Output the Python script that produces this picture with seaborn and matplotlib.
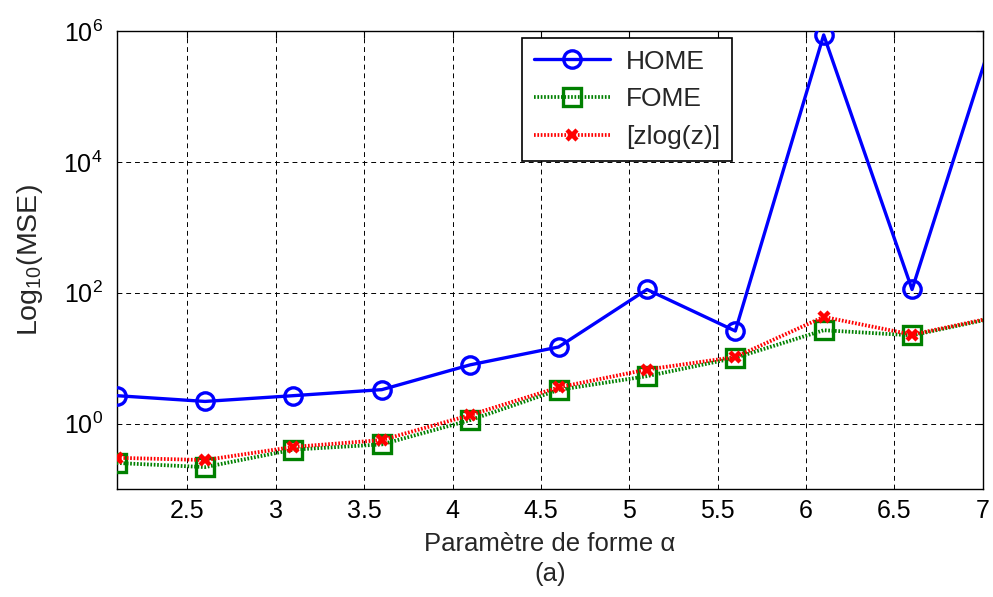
import numpy as np
import pandas as pd
import matplotlib
matplotlib.use("Agg")
import matplotlib.pyplot as plt
import seaborn as sns

# ---- data ----
alpha = [2.1, 2.6, 3.1, 3.6, 4.1, 4.6, 5.1, 5.6, 6.1, 6.6, 7.1]
home = [2.67, 2.18, 2.67, 3.3, 7.9, 14.8, 112, 26, 8.7e5, 112, 1.9e6]
fome = [0.25, 0.216, 0.40, 0.48, 1.13, 3.27, 5.3, 10.1, 26.7, 22.3, 43]
zlog = [0.30, 0.277, 0.44, 0.56, 1.35, 3.58, 6.7, 10.4, 42.7, 22.9, 44]
series_names = ["HOME", "FOME", "[zlog(z)]"]
xticks = [2.5, 3, 3.5, 4, 4.5, 5, 5.5, 6, 6.5, 7]
xtick_labels = ["2.5", "3", "3.5", "4", "4.5", "5", "5.5", "6", "6.5", "7"]
yticks = [1, 1e2, 1e4, 1e6]

sns.set_style("white")
plt.rcParams["font.family"] = ["Liberation Sans", "DejaVu Sans"]
plt.rcParams["mathtext.fontset"] = "custom"
plt.rcParams["mathtext.rm"] = "Liberation Sans"
plt.rcParams["mathtext.it"] = "Liberation Sans:italic"

fig = plt.figure(figsize=(9.93, 5.97), dpi=100)
ax = fig.add_axes([0.1175, 0.1809, 0.8722, 0.7672])

df = pd.DataFrame({"alpha": alpha, "HOME": home, "FOME": fome, "zlog": zlog})

sns.lineplot(data=df, x="alpha", y="HOME", ax=ax, color="#0000ff", linewidth=2.4,
             marker="o", markersize=12.5, markerfacecolor="none",
             markeredgecolor="#0000ff", markeredgewidth=2.4, label=series_names[0],
             zorder=3)
sns.lineplot(data=df, x="alpha", y="FOME", ax=ax, color="#008000", linewidth=2.7,
             linestyle=(0, (0.45, 0.45)),
             marker="s", markersize=12.5, markerfacecolor="none",
             markeredgecolor="#008000", markeredgewidth=2.4, label=series_names[1],
             zorder=4)
sns.lineplot(data=df, x="alpha", y="zlog", ax=ax, color="#ff0000", linewidth=2.7,
             linestyle=(0, (0.45, 0.45)),
             marker="x", markersize=7.5, markeredgecolor="#ff0000",
             markeredgewidth=3.2, label=series_names[2], zorder=5)

ax.set_yscale("log")
ax.set_xlim(2.1, 7)
ax.set_ylim(0.1, 1e6)
ax.set_xticks(xticks)
ax.set_xticklabels(xtick_labels)
ax.set_yticks(yticks)
ax.yaxis.set_minor_locator(matplotlib.ticker.NullLocator())

ax.grid(True, which="major", color="black", linestyle=(0, (5, 4)), linewidth=0.7)
for s in ax.spines.values():
    s.set_visible(True)
    s.set_color("black")
    s.set_linewidth(1.0)
ax.tick_params(direction="in", length=5, width=0.8, top=True, right=True,
               labelsize=18, colors="black")
ax.tick_params(axis="x", pad=7)
ax.tick_params(axis="y", pad=10)

ax.set_xlabel("Paramètre de forme α\n(a)", fontsize=18.5, labelpad=7,
              linespacing=1.3)
ax.set_ylabel(r"Log$_{\mathdefault{10}}$(MSE)", fontsize=20.5, labelpad=13)

leg = ax.legend(loc="upper left", bbox_to_anchor=(0.468, 0.985), fontsize=19,
                frameon=True, fancybox=False, edgecolor="black", framealpha=1,
                handlelength=2.9, handletextpad=0.6, labelspacing=0.52,
                borderpad=0.45, borderaxespad=0)
leg.get_frame().set_linewidth(1.2)

fig.savefig("out.png", dpi=100)
